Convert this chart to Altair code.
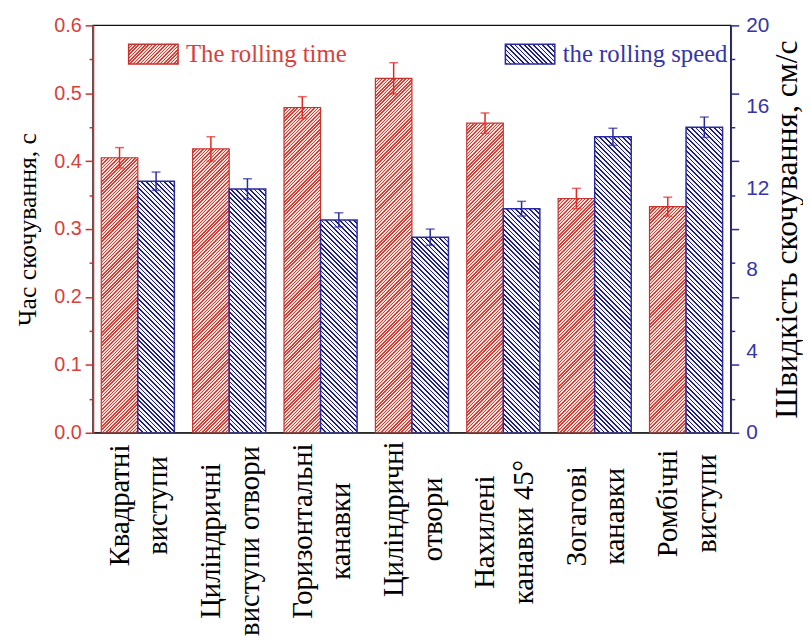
import math
import json
import altair as alt

# ---------------- data ----------------
categories = [
    "Квадратні|виступи",
    "Циліндричні|виступи отвори",
    "Горизонтальні|канавки",
    "Циліндричні|отвори",
    "Нахилені|канавки 45°",
    "Зогагові|канавки",
    "Ромбічні|виступи",
]
rolling_time = [0.405, 0.418, 0.479, 0.522, 0.456, 0.345, 0.333]
rolling_time_err = [0.015, 0.018, 0.016, 0.023, 0.015, 0.015, 0.014]
rolling_speed = [12.35, 11.97, 10.45, 9.6, 11.0, 14.53, 15.0]
rolling_speed_err = [0.45, 0.5, 0.35, 0.4, 0.36, 0.42, 0.5]
series = ["The rolling time", "the rolling speed"]

time_ticks = [round(0.05 * k, 2) for k in range(13)]
speed_labels = [0, 4, 8, 12, 16, 20]
speed_ticks = [round(20 / 12 * k, 4) for k in range(13)]

# ---------------- layout / style ----------------
W, H = 645, 412
TIME_MAX, SPEED_MAX = 0.6, 20
PAD_IN, PAD_OUT = 0.2, 0.09
label_pad = [73, 109, 99, 87, 100, 84, 71]

RED_LINE, RED_BG, RED_EDGE, RED_TXT = "#d43f37", "#fbe1db", "#c8322c", "#d9403a"
BLUE_LINE, BLUE_BG, BLUE_EDGE, BLUE_TXT = "#1e1e78", "#f4f4ff", "#2a2aa0", "#3535a8"
SERIF = "Liberation Serif"
SANS = "Liberation Sans"


def hatch(w, h, period, frac, line, bg, rising):
    """Linear gradient with hard stops that draws 45-degree hatching in a w x h box."""
    k = (w + h) / (w * w + h * h)
    n = (w + h) / math.sqrt(2) / period
    stops = []
    i = 0
    while i < n:
        a = i / n
        b = min((i + frac) / n, 1.0)
        c = min((i + 1) / n, 1.0)
        stops += [
            {"offset": round(a, 5), "color": line},
            {"offset": round(b, 5), "color": line},
            {"offset": round(b, 5), "color": bg},
            {"offset": round(c, 5), "color": bg},
        ]
        i += 1
    if rising:  # "////"
        x1, y1, x2, y2 = 0, 0, k * w, k * h
    else:  # "\\\\"
        x1, y1, x2, y2 = 0, 1, k * w, 1 - k * h
    return {"gradient": "linear", "x1": x1, "y1": y1, "x2": round(x2, 5),
            "y2": round(y2, 5), "stops": stops}


step = W / (len(categories) - PAD_IN + 2 * PAD_OUT)
bar_w = step * (1 - PAD_IN) / 2

red_rows, blue_rows = [], []
for c, t, te, s, se in zip(categories, rolling_time, rolling_time_err,
                           rolling_speed, rolling_speed_err):
    red_rows.append({"cat": c, "series": series[0], "value": t, "lo": t - te, "hi": t + te,
                     "grad": hatch(bar_w, t / TIME_MAX * H, 2.4, 0.45, RED_LINE, RED_BG, True)})
    blue_rows.append({"cat": c, "series": series[1], "value": s, "lo": s - se, "hi": s + se,
                      "grad": hatch(bar_w, s / SPEED_MAX * H, 3.3, 0.36, BLUE_LINE, BLUE_BG, False)})

x_axis = alt.Axis(
    title=None,
    labelExpr="split(datum.label, '|')",
    labelAngle=270, labelAlign="center", labelBaseline="middle",
    labelFont=SERIF, labelFontSize=29, labelLineHeight=39, labelColor="black", labelLimit=0,
    labelOffset=-18,
    labelPadding={"condition": [{"test": f"datum.value === '{c}'", "value": p}
                                for c, p in zip(categories, label_pad)], "value": 90},
    labelOverlap=False, ticks=False, domainColor="#444", domainWidth=1.5, zindex=1,
)

x_enc = alt.X("cat:N", sort=categories,
              scale=alt.Scale(domain=categories, paddingInner=PAD_IN, paddingOuter=PAD_OUT),
              axis=x_axis)
xo_enc = alt.XOffset("series:N", scale=alt.Scale(domain=series, paddingInner=0, paddingOuter=0))

# ---------- red (left axis) ----------
time_scale = alt.Scale(domain=[0, TIME_MAX], nice=False, zero=True)
left_axis = alt.Axis(
    orient="left",
    title="Час скочування, с", values=time_ticks,
    labelExpr="round(datum.value*100) % 10 == 0 ? format(datum.value, '.1f') : ''",
    tickSize={"condition": {"test": "round(datum.value*100) % 10 != 0", "value": 4}, "value": 8},
    labelFont=SANS, labelFontSize=20, labelColor=RED_TXT, labelPadding=4,
    domainColor=RED_EDGE, domainWidth=1.5, tickColor=RED_EDGE, tickWidth=1.5,
    titleFont=SERIF, titleFontSize=26, titleFontWeight="normal", titleColor="black",
    titlePadding=13, grid=False, zindex=1,
)
red_base = alt.Chart(alt.Data(values=red_rows))
red_bars = red_base.mark_bar(stroke=RED_EDGE, strokeWidth=1.2).encode(
    x=x_enc, xOffset=xo_enc,
    y=alt.Y("value:Q", scale=time_scale, axis=left_axis),
    fill=alt.Fill("grad:N", scale=None),
)
red_rule = red_base.mark_rule(color="#e02a22", strokeWidth=1.5).encode(
    x=x_enc, xOffset=xo_enc, y=alt.Y("lo:Q", scale=time_scale, axis=None), y2="hi:Q")
red_lo = red_base.mark_tick(color="#e02a22", thickness=1.5, size=9).encode(
    x=x_enc, xOffset=xo_enc, y=alt.Y("lo:Q", scale=time_scale, axis=None))
red_hi = red_base.mark_tick(color="#e02a22", thickness=1.5, size=9).encode(
    x=x_enc, xOffset=xo_enc, y=alt.Y("hi:Q", scale=time_scale, axis=None))
red_group = alt.layer(red_bars, red_rule, red_lo, red_hi).resolve_axis(y="independent")

# ---------- blue (right axis) ----------
speed_scale = alt.Scale(domain=[0, SPEED_MAX], nice=False, zero=True)
right_label_axis = alt.Axis(
    orient="right", title="Швидкість скочування, см/с", values=speed_labels, format="d",
    ticks=False, labelFont=SANS, labelFontSize=21, labelColor=BLUE_TXT, labelPadding=15,
    domainColor=BLUE_EDGE, domainWidth=1.5,
    titleFont=SERIF, titleFontSize=32, titleFontWeight="normal", titleColor="black",
    titleAngle=270, titleBaseline="top", titlePadding=3, grid=False, zindex=1,
)
right_tick_axis = alt.Axis(
    orient="right", title=None, values=speed_ticks, labels=False, domain=False,
    tickSize={"condition": {"test": "round(datum.value*12/20) % 2 == 1", "value": 4}, "value": 8},
    tickColor=BLUE_EDGE, tickWidth=1.5, grid=False, zindex=1,
)
blue_base = alt.Chart(alt.Data(values=blue_rows))
blue_bars = blue_base.mark_bar(stroke=BLUE_EDGE, strokeWidth=1.5).encode(
    x=x_enc, xOffset=xo_enc,
    y=alt.Y("value:Q", scale=speed_scale, axis=right_label_axis),
    fill=alt.Fill("grad:N", scale=None),
)
blue_rule = blue_base.mark_rule(color=BLUE_EDGE, strokeWidth=1.5).encode(
    x=x_enc, xOffset=xo_enc, y=alt.Y("lo:Q", scale=speed_scale, axis=right_tick_axis), y2="hi:Q")
blue_lo = blue_base.mark_tick(color=BLUE_EDGE, thickness=1.5, size=9).encode(
    x=x_enc, xOffset=xo_enc, y=alt.Y("lo:Q", scale=speed_scale, axis=None))
blue_hi = blue_base.mark_tick(color=BLUE_EDGE, thickness=1.5, size=9).encode(
    x=x_enc, xOffset=xo_enc, y=alt.Y("hi:Q", scale=speed_scale, axis=None))
blue_group = alt.layer(blue_bars, blue_rule, blue_lo, blue_hi).resolve_axis(y="independent")

# ---------- legends ----------
SWATCH = "M-1.25,-0.5H1.25V0.5H-1.25Z"


def legend_layer(name, grad, edge, txt, lx, ly):
    return alt.Chart(alt.Data(values=[{"series": name}])).transform_filter("false").mark_bar(
        stroke=edge, strokeWidth=1.5
    ).encode(
        fill=alt.Fill("series:N",
                      scale=alt.Scale(domain=[name], range=[alt.ExprRef(json.dumps(grad))]),
                      legend=alt.Legend(
                          orient="none", legendX=lx, legendY=ly, title=None,
                          symbolType=SWATCH, symbolSize=1600,
                          symbolStrokeColor=edge, symbolStrokeWidth=1.5,
                          labelFont=SERIF, labelFontSize=25, labelColor=txt,
                          labelOffset=12, labelLimit=0, padding=0)),
    )


red_legend = legend_layer(series[0], hatch(50, 20, 2.4, 0.45, RED_LINE, RED_BG, True),
                          RED_EDGE, RED_TXT, 40, 8)
blue_legend = legend_layer(series[1], hatch(50, 20, 3.3, 0.36, BLUE_LINE, BLUE_BG, False),
                           BLUE_EDGE, BLUE_TXT, 421, 8)

chart = alt.layer(red_group, blue_group, red_legend, blue_legend).resolve_scale(
    y="independent", fill="independent"
).properties(
    width=W, height=H, padding={"left": 7, "top": 3, "right": 0, "bottom": 0}
).configure_view(stroke="#111", strokeWidth=1.5)

chart.save("out.html", embed_options={"renderer": "svg", "actions": False})
